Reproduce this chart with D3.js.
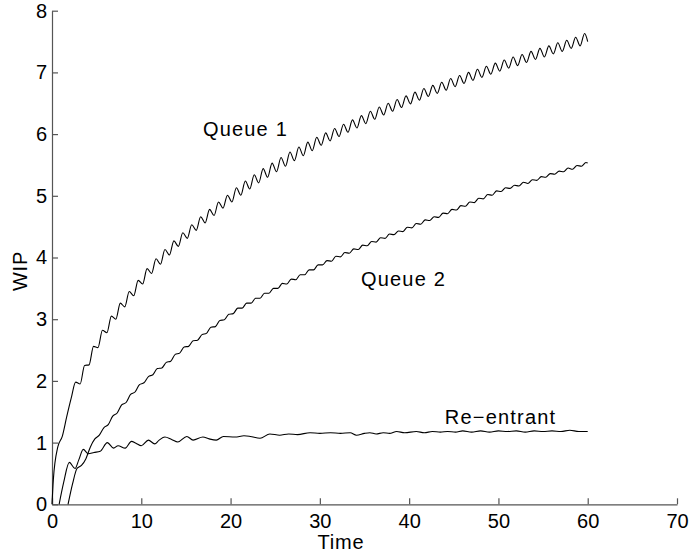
<!DOCTYPE html>
<html>
<head>
<meta charset="utf-8">
<script src="https://cdn.jsdelivr.net/npm/d3@7"></script>
<style>
  html, body { margin: 0; padding: 0; background: #fff; }
  svg { display: block; }
  text { font-family: "Liberation Sans", Arial, sans-serif; }
</style>
</head>
<body>
<svg id="chart" width="691" height="559"></svg>
<script>
// ---------- data ----------
const xTicks = [0, 10, 20, 30, 40, 50, 60, 70];
const yTicks = [0, 1, 2, 3, 4, 5, 6, 7, 8];

const queue1Time = [0,0.15,0.65,1.15,1.65,2.15,2.65,3.15,3.65,4.15,4.65,5.15,5.65,6.15,6.65,7.15,7.65,8.15,8.65,9.15,9.65,
  10.15,10.65,11.15,11.65,12.15,12.65,13.15,13.65,14.15,14.65,15.15,15.65,16.15,16.65,17.15,17.65,18.15,18.65,19.15,19.65,
  20.15,20.65,21.15,21.65,22.15,22.65,23.15,23.65,24.15,24.65,25.15,25.65,26.15,26.65,27.15,27.65,28.15,28.65,29.15,29.65,
  30.15,30.65,31.15,31.65,32.15,32.65,33.15,33.65,34.15,34.65,35.15,35.65,36.15,36.65,37.15,37.65,38.15,38.65,39.15,39.65,
  40.15,40.65,41.15,41.65,42.15,42.65,43.15,43.65,44.15,44.65,45.15,45.65,46.15,46.65,47.15,47.65,48.15,48.65,49.15,49.65,
  50.15,50.65,51.15,51.65,52.15,52.65,53.15,53.65,54.15,54.65,55.15,55.65,56.15,56.65,57.15,57.65,58.15,58.65,59.15,59.65,60];
const queue1WIP = [0,0.40,0.93,1.10,1.42,1.72,1.98,1.95,2.25,2.26,2.56,2.54,2.82,2.78,3.05,3.00,3.26,3.20,3.45,3.38,3.63,
  3.57,3.82,3.74,3.98,3.89,4.13,4.04,4.27,4.18,4.40,4.31,4.53,4.44,4.66,4.56,4.78,4.68,4.90,4.80,5.01,
  4.90,5.13,5.01,5.24,5.11,5.34,5.21,5.44,5.30,5.53,5.39,5.62,5.48,5.71,5.57,5.79,5.65,5.87,5.73,5.95,
  5.82,6.02,5.89,6.09,5.96,6.16,6.03,6.23,6.10,6.30,6.17,6.37,6.24,6.44,6.31,6.50,6.37,6.56,6.43,6.62,
  6.49,6.68,6.55,6.74,6.61,6.79,6.66,6.84,6.71,6.90,6.77,6.95,6.82,7.00,6.87,7.05,6.92,7.10,6.97,7.15,
  7.02,7.20,7.07,7.25,7.11,7.29,7.16,7.34,7.21,7.39,7.25,7.43,7.30,7.48,7.34,7.52,7.39,7.57,7.43,7.63,7.50];

const queue2Time = [1.8,2.3,2.8,3.3,3.8,4.3,4.8,5.3,5.8,6.3,6.8,7.3,7.8,8.3,8.8,9.3,9.8,
  10.3,10.8,11.3,11.8,12.3,12.8,13.3,13.8,14.3,14.8,15.3,15.8,16.3,16.8,17.3,17.8,18.3,18.8,19.3,19.8,
  20.3,20.8,21.3,21.8,22.3,22.8,23.3,23.8,24.3,24.8,25.3,25.8,26.3,26.8,27.3,27.8,28.3,28.8,29.3,29.8,
  30.3,30.8,31.3,31.8,32.3,32.8,33.3,33.8,34.3,34.8,35.3,35.8,36.3,36.8,37.3,37.8,38.3,38.8,39.3,39.8,
  40.3,40.8,41.3,41.8,42.3,42.8,43.3,43.8,44.3,44.8,45.3,45.8,46.3,46.8,47.3,47.8,48.3,48.8,49.3,49.8,
  50.3,50.8,51.3,51.8,52.3,52.8,53.3,53.8,54.3,54.8,55.3,55.8,56.3,56.8,57.3,57.8,58.3,58.8,59.3,59.8,60];
const queue2WIP = [0,0.33,0.58,0.63,0.74,0.93,1.06,1.12,1.24,1.29,1.43,1.48,1.61,1.65,1.78,1.82,1.94,
  1.97,2.07,2.10,2.20,2.21,2.30,2.32,2.43,2.45,2.55,2.56,2.65,2.66,2.75,2.77,2.87,2.88,2.98,2.99,3.08,
  3.09,3.18,3.18,3.26,3.26,3.34,3.34,3.42,3.42,3.50,3.50,3.58,3.57,3.65,3.64,3.72,3.72,3.80,3.80,3.88,
  3.88,3.95,3.94,4.02,4.01,4.08,4.07,4.14,4.13,4.20,4.19,4.26,4.25,4.32,4.31,4.38,4.37,4.43,4.42,4.49,
  4.48,4.55,4.54,4.61,4.60,4.66,4.65,4.72,4.71,4.78,4.77,4.84,4.83,4.90,4.89,4.96,4.95,5.02,5.01,5.08,
  5.07,5.13,5.12,5.17,5.16,5.22,5.20,5.26,5.25,5.31,5.30,5.36,5.35,5.40,5.39,5.45,5.43,5.49,5.48,5.54,5.53];

const reentrantTime = [0.8,1.3,1.94,2.58,3.0,3.5,4.07,4.7,5.4,6.2,6.9,7.4,8.2,8.9,9.4,10.0,10.8,11.5,12.0,12.65,
  13.4,14.1,15.1,15.8,16.9,17.6,18.4,19.2,20.5,21.5,22.2,23.3,24.4,25.5,26.5,27.5,28.9,30.0,31.2,32.3,33.4,34.1,
  35.0,35.6,36.3,37.1,37.8,38.6,39.5,40.8,41.7,42.6,43.5,44.3,45.2,46.0,47.0,48.0,49.0,50.0,51.0,52.0,53.0,54.0,
  55.0,56.0,57.0,58.0,59.0,60.0];
const reentrantWIP = [0,0.35,0.68,0.58,0.72,0.89,0.82,0.84,0.86,1.00,0.91,0.95,0.91,1.02,0.99,0.95,1.04,0.98,1.04,1.09,
  1.05,1.01,1.10,1.04,1.09,1.06,1.04,1.10,1.09,1.11,1.10,1.07,1.14,1.12,1.14,1.13,1.16,1.15,1.16,1.15,1.16,1.12,
  1.15,1.16,1.14,1.16,1.15,1.18,1.16,1.18,1.16,1.18,1.17,1.18,1.17,1.19,1.17,1.19,1.17,1.19,1.18,1.19,1.17,1.19,
  1.18,1.19,1.18,1.20,1.18,1.18];

const seriesLabels = ["Queue 1", "Queue 2", "Re\u2212entrant"];
const labelAt = [[16.9, 5.97], [34.6, 3.54], [44.0, 1.30]]; // data-space anchor (left, baseline)

// ---------- drawing ----------
const svg = d3.select("#chart");
const x = d3.scaleLinear().domain([0, 70]).range([52, 677]);
const y = d3.scaleLinear().domain([0, 8]).range([504.3, 10.7]);

const axisColor = "#555";

const gx = svg.append("g").attr("transform", `translate(0,${y(0)})`)
  .call(d3.axisBottom(x).tickValues(xTicks).tickSizeInner(-6).tickSizeOuter(0).tickPadding(10));
const gy = svg.append("g").attr("transform", `translate(${x(0)},0)`)
  .call(d3.axisLeft(y).tickValues(yTicks).tickSizeInner(-6).tickSizeOuter(0).tickPadding(5));
[gx, gy].forEach(g => {
  g.select(".domain").attr("stroke", axisColor).attr("stroke-width", 1.2);
  g.selectAll(".tick line").attr("stroke", axisColor).attr("stroke-width", 1.2);
  g.selectAll(".tick text").attr("fill", "#000").style("font-size", "20px")
    .style("font-family", '"Liberation Sans", Arial, sans-serif');
});

const line = d3.line().x(d => x(d[0])).y(d => y(d[1])).curve(d3.curveMonotoneX);
const series = [
  d3.zip(queue1Time, queue1WIP),
  d3.zip(queue2Time, queue2WIP),
  d3.zip(reentrantTime, reentrantWIP)
];
svg.append("g").selectAll("path").data(series).join("path")
  .attr("d", line).attr("fill", "none").attr("stroke", "#000").attr("stroke-width", 1.1);

svg.append("g").selectAll("text").data(seriesLabels).join("text")
  .attr("x", (d, i) => x(labelAt[i][0])).attr("y", (d, i) => y(labelAt[i][1]))
  .style("font-size", "20px").style("letter-spacing", "1.2px").attr("fill", "#000").text(d => d);

svg.append("text").attr("x", 341).attr("y", 549)
  .attr("text-anchor", "middle").style("font-size", "20px").style("letter-spacing", "0.8px").text("Time");
svg.append("text").attr("transform", `translate(27,271) rotate(-90)`)
  .attr("text-anchor", "middle").style("font-size", "20px").style("letter-spacing", "0.8px").text("WIP");
</script>
</body>
</html>
